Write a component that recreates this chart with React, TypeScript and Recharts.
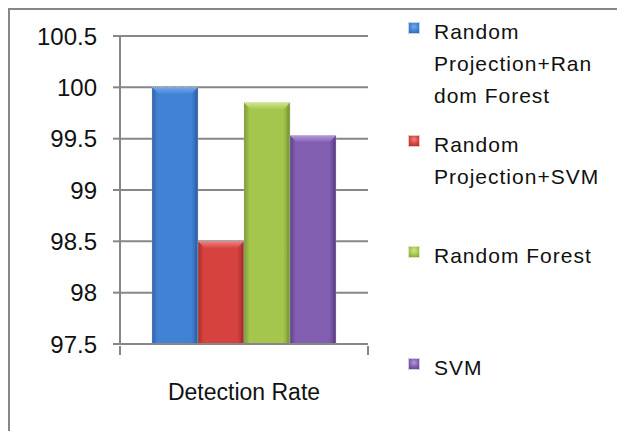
import { BarChart, Bar, XAxis, YAxis, CartesianGrid, Legend } from "recharts";

const categories = ["Detection Rate"];
const rpForest = [100];
const rpSvm = [98.5];
const forest = [99.85];
const svm = [99.53];
const yTicks = [97.5, 98, 98.5, 99, 99.5, 100, 100.5];

const series = [
  { key: "rpForest", name: "Random Projection+Random Forest" },
  { key: "rpSvm", name: "Random Projection+SVM" },
  { key: "forest", name: "Random Forest" },
  { key: "svm", name: "SVM" },
];

// edge, centre, bevel-top colours per series
const tones = [
  { dark: "#2f61a8", mid: "#4282d4", top: "#74a8ec", base: "#4a7ebb" },
  { dark: "#a52f2c", mid: "#d6423e", top: "#ee8480", base: "#c0504d" },
  { dark: "#7b9a35", mid: "#a4c64d", top: "#cfe784", base: "#9bbb59" },
  { dark: "#5d4186", mid: "#815eb0", top: "#b496dc", base: "#8064a2" },
];

const data = categories.map((c, i) => ({
  category: c,
  rpForest: rpForest[i],
  rpSvm: rpSvm[i],
  forest: forest[i],
  svm: svm[i],
}));

const GRID = "#878787";
const FONT = "'Liberation Sans', Arial, sans-serif";

// eslint-disable-next-line @typescript-eslint/no-explicit-any
function BevelBar(props: any) {
  const { x, y, width, height, tone } = props;
  const t = tones[tone];
  const b = 7;
  return (
    <g>
      <rect x={x} y={y} width={width} height={height} fill={`url(#body${tone})`} />
      <polygon
        points={`${x},${y} ${x + width},${y} ${x + width - b},${y + b} ${x + b},${y + b}`}
        fill={`url(#top${tone})`}
      />
      <polygon
        points={`${x + width},${y} ${x + width},${y + height} ${x + width - 3},${y + height} ${x + width - 3},${y + b}`}
        fill={t.dark}
        opacity={0.6}
      />
      <rect
        x={x}
        y={y}
        width={width}
        height={height}
        fill="none"
        stroke="#b9c3cf"
        strokeWidth={1}
        strokeDasharray="1 1"
        opacity={0.7}
      />
    </g>
  );
}

// category label plus tick marks at both edges of the band
// eslint-disable-next-line @typescript-eslint/no-explicit-any
function CategoryTick(props: any) {
  const { x, y, payload } = props;
  const half = payload.offset ?? 0;
  return (
    <g>
      <line x1={x - half} y1={y} x2={x - half} y2={y + 9} stroke={GRID} strokeWidth={2} />
      <line x1={x + half} y1={y} x2={x + half} y2={y + 9} stroke={GRID} strokeWidth={2} />
      <text
        x={x}
        y={y + 54}
        textAnchor="middle"
        fill="#111"
        fontSize={23}
        fontFamily={FONT}
      >
        {payload.value}
      </text>
    </g>
  );
}

function SideLegend() {
  const tops = [7, 120, 231, 343];
  return (
    <div style={{ position: "relative", width: 220, height: 420 }}>
      {series.map((s, i) => (
        <div
          key={s.key}
          style={{ position: "absolute", left: 0, top: tops[i], display: "flex" }}
        >
          <span
            style={{
              display: "inline-block",
              width: 10,
              height: 10,
              marginTop: 7,
              marginRight: 15,
              flex: "none",
              background: `radial-gradient(circle at 50% 35%, ${tones[i].top}, ${tones[i].mid} 55%, ${tones[i].dark})`,
              boxShadow: `0 0 0 1px ${tones[i].base}55`,
            }}
          />
          <span
            style={{
              width: 170,
              fontFamily: FONT,
              fontSize: 21,
              lineHeight: "32px",
              letterSpacing: 1,
              color: "#111",
              overflowWrap: "anywhere",
              textAlign: "left",
            }}
          >
            {s.name}
          </span>
        </div>
      ))}
    </div>
  );
}

export default function App() {
  return (
    <div style={{ position: "relative", width: 625, height: 431 }}>
      <BarChart
        width={625}
        height={431}
        data={data}
        margin={{ top: 28, right: 265, bottom: 35, left: 0 }}
        barGap={0}
        barSize={46}
      >
        <defs>
          {tones.map((t, i) => (
            <linearGradient key={`b${i}`} id={`body${i}`} x1="0" y1="0" x2="1" y2="0">
              <stop offset="0%" stopColor={t.dark} />
              <stop offset="12%" stopColor={t.mid} />
              <stop offset="85%" stopColor={t.mid} />
              <stop offset="100%" stopColor={t.dark} />
            </linearGradient>
          ))}
          {tones.map((t, i) => (
            <linearGradient key={`t${i}`} id={`top${i}`} x1="0" y1="0" x2="0" y2="1">
              <stop offset="0%" stopColor={t.top} />
              <stop offset="100%" stopColor={t.mid} />
            </linearGradient>
          ))}
        </defs>
        {/* outer chart frame: top and left edges */}
        <line x1={0} y1={1} x2={625} y2={1} stroke={GRID} strokeWidth={2} />
        <line x1={1} y1={0} x2={1} y2={431} stroke={GRID} strokeWidth={2} />
        <CartesianGrid vertical={false} stroke={GRID} strokeWidth={2} />
        <XAxis
          dataKey="category"
          height={60}
          tickSize={0}
          tickLine={false}
          interval={0}
          axisLine={{ stroke: GRID, strokeWidth: 2 }}
          tick={<CategoryTick />}
        />
        <YAxis
          width={112}
          domain={[97.5, 100.5]}
          ticks={yTicks}
          allowDataOverflow
          tickSize={7}
          tickMargin={16}
          axisLine={{ stroke: GRID, strokeWidth: 2 }}
          tickLine={{ stroke: GRID, strokeWidth: 2 }}
          tick={{ fill: "#111", fontSize: 24, fontFamily: FONT }}
        />
        <Legend
          layout="vertical"
          align="center"
          verticalAlign="middle"
          wrapperStyle={{ left: 401, top: 1, width: 220 }}
          content={<SideLegend />}
        />
        {series.map((s, i) => (
          <Bar
            key={s.key}
            dataKey={s.key}
            name={s.name}
            fill={tones[i].base}
            isAnimationActive={false}
            shape={(p: object) => <BevelBar {...p} tone={i} />}
          />
        ))}
      </BarChart>
    </div>
  );
}
